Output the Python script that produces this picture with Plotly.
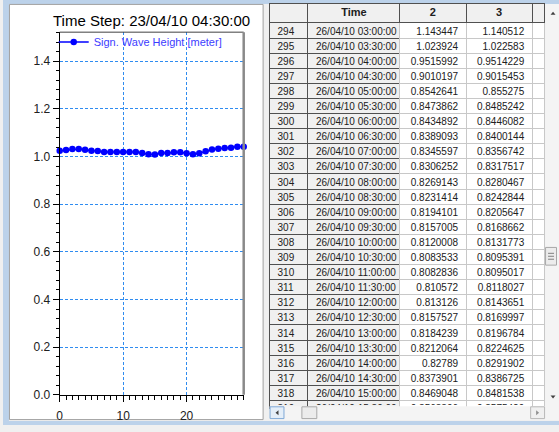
import plotly.graph_objects as go

W, H = 559, 432

# ---- chart series: significant wave height per time step ----
step = list(range(30))
wave_height = [1.024, 1.027, 1.032, 1.032, 1.028, 1.024, 1.023, 1.019, 1.019, 1.019,
               1.019, 1.019, 1.019, 1.015, 1.010, 1.009, 1.015, 1.015, 1.018, 1.018,
               1.014, 1.010, 1.014, 1.022, 1.030, 1.033, 1.036, 1.037, 1.041, 1.041]
series_name = "Sign. Wave Height [meter]"
chart_title = "Time Step: 23/04/10 04:30:00"

# ---- table data ----
table_header = ["", "Time", "2", "3", ""]
row_ids = [294, 295, 296, 297, 298, 299, 300, 301, 302, 303, 304, 305, 306,
           307, 308, 309, 310, 311, 312, 313, 314, 315, 316, 317, 318, 319]
times = ["26/04/10 03:00:00", "26/04/10 03:30:00", "26/04/10 04:00:00", "26/04/10 04:30:00",
         "26/04/10 05:00:00", "26/04/10 05:30:00", "26/04/10 06:00:00", "26/04/10 06:30:00",
         "26/04/10 07:00:00", "26/04/10 07:30:00", "26/04/10 08:00:00", "26/04/10 08:30:00",
         "26/04/10 09:00:00", "26/04/10 09:30:00", "26/04/10 10:00:00", "26/04/10 10:30:00",
         "26/04/10 11:00:00", "26/04/10 11:30:00", "26/04/10 12:00:00", "26/04/10 12:30:00",
         "26/04/10 13:00:00", "26/04/10 13:30:00", "26/04/10 14:00:00", "26/04/10 14:30:00",
         "26/04/10 15:00:00", "26/04/10 15:30:00"]
col2 = [1.143447, 1.023924, 0.9515992, 0.9010197, 0.8542641, 0.8473862, 0.8434892,
        0.8389093, 0.8345597, 0.8306252, 0.8269143, 0.8231414, 0.8194101, 0.8157005,
        0.8120008, 0.8083533, 0.8082836, 0.810572, 0.813126, 0.8157527, 0.8184239,
        0.8212064, 0.82789, 0.8373901, 0.8469048, 0.8563306]
col3 = [1.140512, 1.022583, 0.9514229, 0.9015453, 0.855275, 0.8485242, 0.8446082,
        0.8400144, 0.8356742, 0.8317517, 0.8280467, 0.8242844, 0.8205647, 0.8168662,
        0.8131773, 0.8095391, 0.8095017, 0.8118027, 0.8143651, 0.8169997, 0.8196784,
        0.8224625, 0.8291902, 0.8386725, 0.8481538, 0.8575429]


def px(x):
    return x / W


def py(y):
    return 1 - y / H


FONT = "Liberation Sans, Arial, sans-serif"
GRID = "#2f8cf0"

fig = go.Figure()

fig.add_trace(go.Scatter(
    x=step, y=wave_height, mode="lines+markers", name=series_name,
    line=dict(color="#0000ff", width=1.5),
    marker=dict(color="#0000ff", size=6.5),
    cliponaxis=False, showlegend=True,
))

n = len(row_ids)
col_widths = [38.7, 92.5, 66.7, 66.7, 12.4]
header_h = 19
row_h = 15.1
table_top, table_bottom = 4, 416
text_lift = 4  # cell text sits this many px above the grid's default text slot

# grid layer: fills and borders
fig.add_trace(go.Table(
    domain=dict(x=[px(268), px(545)], y=[py(table_bottom), py(table_top)]),
    columnwidth=col_widths,
    header=dict(
        values=[""] * len(table_header),
        fill_color="#f0f0f0",
        line=dict(color="#505050", width=1),
        height=header_h,
    ),
    cells=dict(
        values=[[""] * n for _ in table_header],
        fill_color=["#f0f0f0", "#f0f0f0", "white", "white", "white"],
        line=dict(color=["#505050", "#505050", "#c8c8c8", "#c8c8c8", "#c8c8c8"], width=1),
        height=row_h,
    ),
))

# text layer: the table's values
fig.add_trace(go.Table(
    domain=dict(x=[px(268), px(545)], y=[py(table_bottom - text_lift), py(table_top - text_lift)]),
    columnwidth=col_widths,
    header=dict(
        values=table_header,
        fill_color="rgba(0,0,0,0)",
        line=dict(color="rgba(0,0,0,0)", width=0),
        align="center",
        font=dict(family=FONT, size=11, color="#202020", weight="bold"),
        height=header_h,
    ),
    cells=dict(
        values=[[str(r) for r in row_ids],
                [t.replace(" ", "\u00a0") for t in times],
                [str(v) for v in col2],
                [str(v) for v in col3],
                [""] * n],
        fill_color="rgba(0,0,0,0)",
        line=dict(color="rgba(0,0,0,0)", width=0),
        align=["left", "left", "right", "right", "left"],
        font=dict(family=FONT, size=10, color="#202020"),
        height=row_h,
    ),
))

shapes = []


def rect(x0, y0, x1, y1, fill, line=None, lw=1, layer="below"):
    shapes.append(dict(type="rect", xref="paper", yref="paper",
                       x0=px(x0), x1=px(x1), y0=py(y1), y1=py(y0),
                       fillcolor=fill, layer=layer,
                       line=dict(color=line or fill, width=lw if line else 0)))


def tri(points, fill="#404040"):
    path = "M " + " L ".join(f"{px(a)},{py(b)}" for a, b in points) + " Z"
    shapes.append(dict(type="path", xref="paper", yref="paper", path=path,
                       fillcolor=fill, line=dict(width=0), layer="above"))


# window frame
rect(0, 0, 559, 4, "#bcd2ea")
rect(0, 0, 6, 432, "#bcd2ea")
rect(0, 428, 559, 432, "#bcd2ea")
# chart panel
rect(6.5, 4.5, 261.5, 426.5, "white", "#a0a0a0")

# plot frame (top and right edges)
shapes.append(dict(type="line", xref="x domain", yref="y domain", x0=0, x1=1, y0=1, y1=1,
                   line=dict(color="#404040", width=1), layer="above"))
shapes.append(dict(type="line", xref="x domain", yref="y domain", x0=1, x1=1, y0=0, y1=1,
                   line=dict(color="#8a8a8a", width=2.5), layer="above"))

# vertical scrollbar
rect(545, 4, 559, 413, "#f4f4f4", layer="above")
tri([(550.5, 15), (555.5, 15), (553, 12)])
tri([(550.5, 402), (555.5, 402), (553, 405)])
rect(545.5, 251.5, 556.5, 269.5, "#ececec", "#a8a8a8", layer="above")
for gy in (257.5, 260.5, 263.5):
    shapes.append(dict(type="line", xref="paper", yref="paper",
                       x0=px(548), x1=px(554), y0=py(gy), y1=py(gy),
                       line=dict(color="#808080", width=1), layer="above"))
# horizontal scrollbar
rect(268, 413, 559, 427, "#f4f4f4", layer="above")
rect(268.5, 413.5, 282.5, 425.5, "#e4eef8", "#7fa8d6", layer="above")
tri([(277, 417), (277, 422), (274, 419.5)])
rect(300.5, 413.5, 315.5, 425.5, "#ececec", "#a8a8a8", layer="above")
rect(530.5, 413.5, 544.5, 425.5, "#f0f0f0", "#b8b8b8", layer="above")
tri([(536, 417), (536, 422), (539, 419.5)], fill="#909090")

fig.update_layout(
    width=W, height=H,
    margin=dict(l=0, r=0, t=0, b=0),
    paper_bgcolor="#f0f0f0",
    plot_bgcolor="white",
    font=dict(family=FONT, size=12, color="#202020"),
    shapes=shapes,
    showlegend=True,
    legend=dict(x=px(51), y=py(28), xanchor="left", yanchor="top",
                bgcolor="rgba(0,0,0,0)", itemwidth=30,
                font=dict(family=FONT, size=11, color="#3c3cff")),
    annotations=[dict(text=chart_title, x=px(149.3), y=py(20.7), xref="paper", yref="paper",
                      showarrow=False, xanchor="center", yanchor="middle",
                      font=dict(family=FONT, size=15, color="#000000"))],
    xaxis=dict(
        domain=[px(57), px(242)], range=[0, 29],
        showline=True, linecolor="black", linewidth=1,
        ticks="outside", ticklen=6, tickcolor="black", tick0=0, dtick=10,
        showgrid=True, gridcolor=GRID, griddash="3px,2px", gridwidth=1,
        zeroline=False, tickfont=dict(size=12, color="#202020"), ticklabelstandoff=4,
        minor=dict(dtick=1, tick0=0, ticks="outside", ticklen=4, tickcolor="black", showgrid=False),
        fixedrange=True,
    ),
    yaxis=dict(
        domain=[py(401.3), py(32.7)], range=[0, 1.522],
        showline=True, linecolor="black", linewidth=1,
        ticks="outside", ticklen=6, tickcolor="black", tick0=0, dtick=0.2, tickformat=".1f",
        showgrid=True, gridcolor=GRID, griddash="3px,2px", gridwidth=1,
        zeroline=False, tickfont=dict(size=12, color="#202020"),
        minor=dict(dtick=0.04, tick0=0, ticks="outside", ticklen=3, tickcolor="black", showgrid=False),
        fixedrange=True,
    ),
)

fig.write_html("out.html", config={"displayModeBar": False})
